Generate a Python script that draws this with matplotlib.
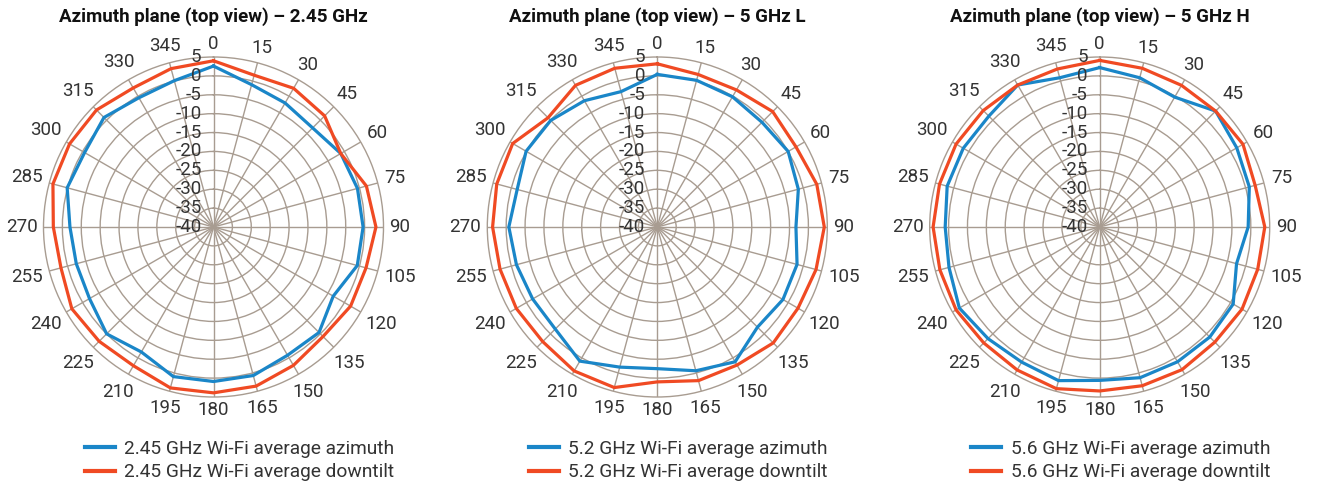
import numpy as np
import matplotlib
matplotlib.use("Agg")
import matplotlib.pyplot as plt

plt.rcParams['font.family'] = ['Roboto', 'DejaVu Sans']

angles_deg = list(range(0, 360, 15))
angle_labels = [str(a) for a in angles_deg]
r_ticks = [5, 0, -5, -10, -15, -20, -25, -30, -35, -40]
r_tick_labels = [str(v) for v in r_ticks]

titles = ["Azimuth plane (top view) – 2.45 GHz",
          "Azimuth plane (top view) – 5 GHz L",
          "Azimuth plane (top view) – 5 GHz H"]

# 2.45 GHz
azim_245 = [2.6, -1.0, -2.1, -2.9, -1.1, -0.55, -0.4, -0.6, -3.4, -0.5, -0.8, 0.7,
            0.9, 1.0, -1.8, 0.0, -2.1, -2.4, -2.0, 0.1, -0.6, 1.0, -0.5, 0.1]
down_245 = [4.0, 1.6, 2.4, 1.6, -1.1, 1.9, 3.0, 1.8, 1.9, 1.0, 2.3, 3.6,
            3.9, 4.1, 2.4, 2.8, 3.3, 1.8, 2.4, 4.0, 4.0, 3.8, 2.5, 3.4]
# 5.2 GHz
azim_52 = [0.4, 0.2, -0.2, -0.8, 0.0, -1.35, -3.3, -1.7, -1.6, -2.5, 1.2, -0.6,
           -2.5, -1.6, 1.0, -1.8, -1.9, -1.4, -0.7, -1.6, 0.1, -0.1, -1.4, -2.9]
down_52 = [3.2, 1.8, 1.9, 3.2, 2.4, 3.7, 4.2, 3.5, 3.0, 3.4, 2.2, 2.1,
           1.0, 4.0, 4.0, 2.9, 3.1, 3.1, 3.6, 4.0, 4.2, 0.9, 3.3, 3.5]
# 5.6 GHz
azim_56 = [2.2, 0.9, -0.3, 3.4, 1.9, 1.0, -0.7, -2.5, 0.8, 1.2, 1.2, 1.3,
           0.6, 2.1, 1.3, 1.8, 2.9, 1.3, 0.9, 1.8, 1.7, 1.5, 3.4, 0.9]
down_56 = [4.1, 3.5, 3.3, 3.4, 3.8, 2.6, 3.7, 3.3, 3.5, 3.1, 3.6, 3.5,
           3.4, 4.3, 3.7, 3.4, 3.9, 3.8, 4.1, 3.9, 3.9, 3.6, 3.4, 3.3]

series = [
    (azim_245, down_245, "2.45 GHz Wi-Fi average azimuth", "2.45 GHz Wi-Fi average downtilt"),
    (azim_52, down_52, "5.2 GHz Wi-Fi average azimuth", "5.2 GHz Wi-Fi average downtilt"),
    (azim_56, down_56, "5.6 GHz Wi-Fi average azimuth", "5.6 GHz Wi-Fi average downtilt"),
]

W, H = 1317, 487
fig = plt.figure(figsize=(W / 100, H / 100), dpi=100)
centers = [213.5, 657.3, 1099.7]
cy = 227
R = 170
BLUE = "#1a86c8"
RED = "#f04a23"
GRID = "#a89c91"
FS = 13.5

renderer = fig.canvas.get_renderer()

for i, cx in enumerate(centers):
    ax = fig.add_axes([(cx - R) / W, (H - cy - R) / H, 2 * R / W, 2 * R / H],
                      projection='polar')
    ax.set_theta_zero_location('N')
    ax.set_theta_direction(-1)
    ax.set_ylim(-40, 5)
    ax.set_yticks(r_ticks[1:-1])
    ax.set_yticklabels([])
    ax.set_xticks(np.deg2rad(angles_deg))
    ax.set_xticklabels([])
    ax.grid(True, color=GRID, linewidth=1.0)
    ax.spines['polar'].set_color(GRID)
    ax.spines['polar'].set_linewidth(1.0)
    ax.tick_params(length=0)
    ax.set_facecolor('white')

    az, dn, la, ld = series[i]
    th = np.deg2rad(angles_deg + [angles_deg[0]])
    ax.plot(th, list(az) + [az[0]], color=BLUE, lw=2.3, label=la, zorder=3,
            solid_joinstyle='miter')
    ax.plot(th, list(dn) + [dn[0]], color=RED, lw=2.3, label=ld, zorder=3,
            solid_joinstyle='miter')

    # radial labels
    for v, s in zip(r_ticks, r_tick_labels):
        ax.annotate(s, xy=(0, v), xytext=(-12, 0), textcoords='offset pixels',
                    ha='right', va='center', fontsize=FS, color='#333333',
                    annotation_clip=False, zorder=4)

    # angle labels
    for a, s in zip(angles_deg, angle_labels):
        t = fig.text(0, 0, s, fontsize=FS)
        bb = t.get_window_extent(renderer)
        t.remove()
        w, h = bb.width, bb.height * 0.8
        th_r = np.deg2rad(a)
        sx, sy = np.sin(th_r), np.cos(th_r)
        d = 6 + 0.5 * w * abs(sx) + 0.5 * h * abs(sy)
        ax.annotate(s, xy=(th_r, 5), xytext=(d * sx, d * sy), textcoords='offset pixels',
                    ha='center', va='center', fontsize=FS, color='#333333',
                    annotation_clip=False)

    fig.text(cx / W, 1 - 22 / H, titles[i], ha='center', va='baseline',
             fontsize=13.5, fontweight='bold', color='#111111')

    leg = ax.legend(loc='upper left', bbox_to_anchor=((cx - 128 - 8) / W, (H - 432) / H),
                    bbox_transform=fig.transFigure, frameon=False, fontsize=13.8,
                    handlelength=1.55, handletextpad=0.5, labelspacing=0.3,
                    borderaxespad=0, borderpad=0.4)
    for txt in leg.get_texts():
        txt.set_color('#333333')
    for ln in leg.get_lines():
        ln.set_linewidth(3)

fig.savefig("out.png", dpi=100)
